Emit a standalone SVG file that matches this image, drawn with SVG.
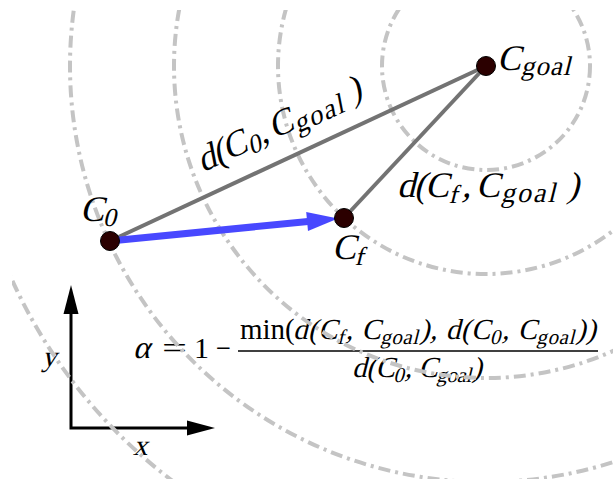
<svg xmlns="http://www.w3.org/2000/svg" width="613" height="479" viewBox="0 0 613 479">
<style>
.t{font-family:"Liberation Serif","Times New Roman",serif;font-style:normal;fill:#000}
.contour{fill:none;stroke:#c4c4c4;stroke-width:4;stroke-dasharray:12 5 3 5}
.edge{stroke:#737373;stroke-width:4;fill:none}
.dot{fill:#2b0000;stroke:#000;stroke-width:1}
.axis{stroke:#000;stroke-width:3;fill:none}
</style>
<defs>
<clipPath id="clip"><rect x="12" y="10" width="601" height="469"/></clipPath>
</defs>
<rect width="613" height="479" fill="#fff"/>

<g id="formula">
<g transform="translate(133,358) skewX(-14)"><text class="t" font-size="32" x="0" y="0">α</text></g>
<text class="t" font-size="30" y="358"><tspan x="162" textLength="25" lengthAdjust="spacingAndGlyphs">=</tspan><tspan x="194">1</tspan><tspan x="216" textLength="15" lengthAdjust="spacingAndGlyphs">−</tspan></text>
<text class="t" font-size="29" x="240" y="339">min(</text>
<g transform="translate(293,339) skewX(-14)">
<text class="t" font-size="29" x="0" y="0" textLength="303" lengthAdjust="spacing">d(C<tspan font-size="21" dy="5">f</tspan><tspan dy="-5">, C</tspan><tspan font-size="21" dy="5">goal</tspan><tspan dy="-5">), d(C</tspan><tspan font-size="21" dy="5">0</tspan><tspan dy="-5">, C</tspan><tspan font-size="21" dy="5">goal</tspan><tspan dy="-5">))</tspan></text>
</g>
<line x1="238" y1="351" x2="598" y2="351" stroke="#000" stroke-width="1.3"/>
<g transform="translate(352,377) skewX(-14)">
<text class="t" font-size="29" x="0" y="0" textLength="130" lengthAdjust="spacing">d(C<tspan font-size="21" dy="5">0</tspan><tspan dy="-5">, C</tspan><tspan font-size="21" dy="5">goal</tspan><tspan dy="-5">)</tspan></text>
</g>
</g>

<g id="axes">
<polyline class="axis" points="71,313 71,428 188,428"/>
<polygon points="71,285 63.5,314 78.5,314" fill="#000"/>
<polygon points="215,428 187,420.5 187,435.5" fill="#000"/>
<g transform="translate(42,366) skewX(-14)"><text class="t" font-size="29">y</text></g>
<g transform="translate(133,455) skewX(-14)"><text class="t" font-size="29">x</text></g>
</g>

<g id="contours" clip-path="url(#clip)">
<circle class="contour" cx="486" cy="66" r="104"/>
<circle class="contour" cx="486" cy="66" r="208"/>
<circle class="contour" cx="486" cy="66" r="312"/>
<circle class="contour" cx="486" cy="66" r="416"/>
<circle class="contour" cx="486" cy="66" r="520"/>
</g>

<g id="connectors">
<line class="edge" x1="110" y1="241" x2="486" y2="66"/>
<line class="edge" x1="344" y1="218" x2="486" y2="66"/>
<g transform="translate(110,241) rotate(-25) translate(113,-23) skewX(-14)">
<text class="t" font-size="36" y="0"><tspan x="0">d</tspan><tspan x="17">(</tspan><tspan x="28">C</tspan><tspan x="53" y="5" font-size="26">0</tspan><tspan x="66" y="0">,</tspan><tspan x="79">C</tspan><tspan x="104" y="5" font-size="28" letter-spacing="1.5">goal</tspan><tspan x="166" y="0">)</tspan></text>
</g>
<g transform="translate(397,197) skewX(-14)">
<text class="t" font-size="36" y="0"><tspan x="0">d</tspan><tspan x="17">(</tspan><tspan x="28">C</tspan><tspan x="53" y="6" font-size="26">f</tspan><tspan x="65" y="0">,</tspan><tspan x="79">C</tspan><tspan x="105" y="5" font-size="28" letter-spacing="2">goal</tspan><tspan x="170" y="0">)</tspan></text>
</g>
<g id="motion">
<line x1="110" y1="241" x2="308" y2="221.5" stroke="#4848ff" stroke-width="7"/>
<polygon points="338,218.6 308,231.1 306.2,212.1" fill="#4848ff"/>
</g>
</g>

<g id="C0">
<circle class="dot" cx="110" cy="241" r="9.5"/>
<g transform="translate(80,221) skewX(-14)"><text class="t" font-size="36"><tspan x="0">C</tspan><tspan x="24" y="5" font-size="26">0</tspan></text></g>
</g>
<g id="Cf">
<circle class="dot" cx="344" cy="218" r="9.5"/>
<g transform="translate(332,259) skewX(-14)"><text class="t" font-size="36"><tspan x="0">C</tspan><tspan x="24" y="6" font-size="26">f</tspan></text></g>
</g>
<g id="Cgoal">
<circle class="dot" cx="486" cy="66" r="9.5"/>
<g transform="translate(497,70) skewX(-14)"><text class="t" font-size="36"><tspan x="0">C</tspan><tspan x="25" y="5" font-size="27" letter-spacing="1">goal</tspan></text></g>
</g>
</svg>
